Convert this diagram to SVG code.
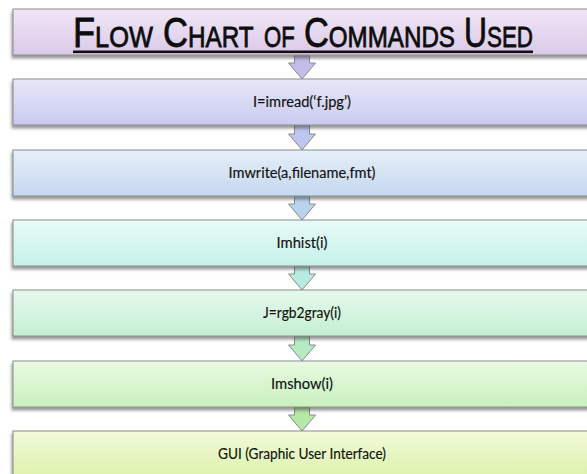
<svg xmlns="http://www.w3.org/2000/svg" width="587" height="474" viewBox="0 0 587 474">
<style>
.box{stroke:#8c8c8c;stroke-width:1;filter:url(#sh)}
.lbl{font-family:Lato,"Open Sans","Liberation Sans",sans-serif;font-size:14.5px;fill:#111;text-anchor:middle;stroke:#111;stroke-width:0.15}
.ttl{font-family:"Liberation Sans",Arial,sans-serif;fill:#0d0d0d;stroke:#0d0d0d;stroke-width:0.8}
.big{font-size:42px}
.sm{font-size:29.5px}
.arr{stroke:#8a8a8a;stroke-width:1}
</style>
<defs>
<filter id="sh" x="-5%" y="-20%" width="110%" height="160%">
<feDropShadow dx="-1" dy="3" stdDeviation="1.5" flood-color="#444" flood-opacity="0.55"/>
</filter>
<linearGradient id="g1" x1="0" y1="0" x2="0" y2="1"><stop offset="0" stop-color="#efe7f6"/><stop offset="1" stop-color="#dbc9e8"/></linearGradient>
<linearGradient id="g2" x1="0" y1="0" x2="0" y2="1"><stop offset="0" stop-color="#e7e7f8"/><stop offset="1" stop-color="#c9cbef"/></linearGradient>
<linearGradient id="g3" x1="0" y1="0" x2="0" y2="1"><stop offset="0" stop-color="#e7eff9"/><stop offset="1" stop-color="#c4d8f0"/></linearGradient>
<linearGradient id="g4" x1="0" y1="0" x2="0" y2="1"><stop offset="0" stop-color="#e7fbf7"/><stop offset="1" stop-color="#c6f1ea"/></linearGradient>
<linearGradient id="g5" x1="0" y1="0" x2="0" y2="1"><stop offset="0" stop-color="#e5f9eb"/><stop offset="1" stop-color="#c5efd3"/></linearGradient>
<linearGradient id="g6" x1="0" y1="0" x2="0" y2="1"><stop offset="0" stop-color="#e9f9e1"/><stop offset="1" stop-color="#c9f1bf"/></linearGradient>
<linearGradient id="g7" x1="0" y1="0" x2="0" y2="1"><stop offset="0" stop-color="#f2f9da"/><stop offset="1" stop-color="#dcf3ab"/></linearGradient>
</defs>

<g id="connectors">
<path class="arr" fill="#c3bde9" d="M294.5 55 L309.5 55 L309.5 63 L315.5 63 L302 79 L288.5 63 L294.5 63 Z"/>
<path class="arr" fill="#bdc6ee" d="M294.5 125 L309.5 125 L309.5 134 L315.5 134 L302 150 L288.5 134 L294.5 134 Z"/>
<path class="arr" fill="#b9d3ee" d="M294.5 196 L309.5 196 L309.5 204 L315.5 204 L302 220 L288.5 204 L294.5 204 Z"/>
<path class="arr" fill="#b8ece0" d="M294.5 266 L309.5 266 L309.5 274 L315.5 274 L302 290 L288.5 274 L294.5 274 Z"/>
<path class="arr" fill="#b5eac5" d="M294.5 336 L309.5 336 L309.5 345 L315.5 345 L302 361 L288.5 345 L294.5 345 Z"/>
<path class="arr" fill="#b4eaa6" d="M294.5 407 L309.5 407 L309.5 415 L315.5 415 L302 431 L288.5 415 L294.5 415 Z"/>
</g>

<g id="title">
<rect class="box" x="13" y="9" width="590" height="46" fill="url(#g1)"/>
<text class="ttl" transform="translate(73,47) scale(0.861,1)"><tspan class="big">F</tspan><tspan class="sm">LOW</tspan></text>
<text class="ttl" transform="translate(163,47) scale(0.823,1)"><tspan class="big">C</tspan><tspan class="sm">HART</tspan></text>
<text class="ttl sm" transform="translate(264,47) scale(0.75,1)">OF</text>
<text class="ttl" transform="translate(304,47) scale(0.819,1)"><tspan class="big">C</tspan><tspan class="sm">OMMANDS</tspan></text>
<text class="ttl" transform="translate(464,47) scale(0.758,1)"><tspan class="big">U</tspan><tspan class="sm">SED</tspan></text>
<rect x="73" y="50.5" width="460" height="2.6" fill="#111"/>
</g>

<g id="n1">
<rect class="box" x="13" y="79" width="590" height="46" fill="url(#g2)"/>
<text class="lbl" x="302" y="106.5" textLength="98" lengthAdjust="spacingAndGlyphs">I=imread(‘f.jpg’)</text>
</g>
<g id="n2">
<rect class="box" x="13" y="150" width="590" height="46" fill="url(#g3)"/>
<text class="lbl" x="302" y="177.5" textLength="147" lengthAdjust="spacingAndGlyphs">Imwrite(a,filename,fmt)</text>
</g>
<g id="n3">
<rect class="box" x="13" y="220" width="590" height="46" fill="url(#g4)"/>
<text class="lbl" x="302" y="247.5" textLength="51" lengthAdjust="spacingAndGlyphs">Imhist(i)</text>
</g>
<g id="n4">
<rect class="box" x="13" y="290" width="590" height="46" fill="url(#g5)"/>
<text class="lbl" x="302" y="317.5" textLength="78" lengthAdjust="spacingAndGlyphs">J=rgb2gray(i)</text>
</g>
<g id="n5">
<rect class="box" x="13" y="361" width="590" height="46" fill="url(#g6)"/>
<text class="lbl" x="302" y="388.5" textLength="62" lengthAdjust="spacingAndGlyphs">Imshow(i)</text>
</g>
<g id="n6">
<rect class="box" x="13" y="431" width="590" height="46" fill="url(#g7)"/>
<text class="lbl" x="302" y="458.5" textLength="168" lengthAdjust="spacingAndGlyphs">GUI (Graphic User Interface)</text>
</g>
</svg>
